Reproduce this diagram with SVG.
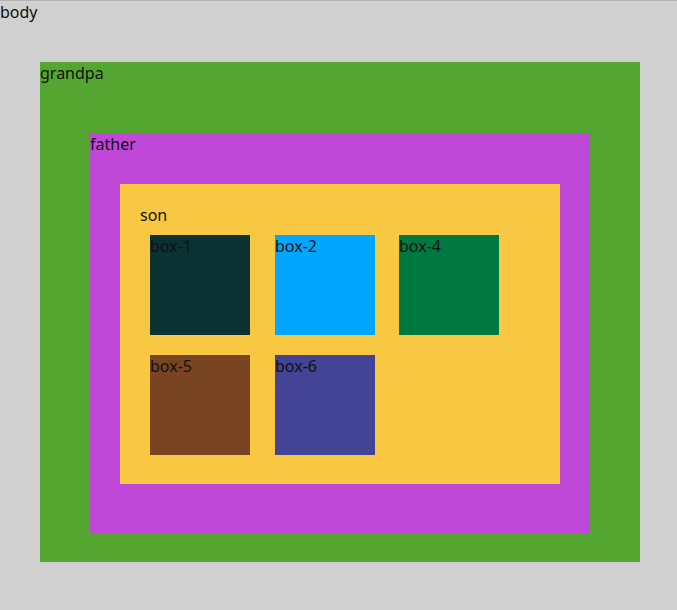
<svg xmlns="http://www.w3.org/2000/svg" width="677" height="610" viewBox="0 0 677 610">
<style>
text{font-family:"Noto Sans","Open Sans","Liberation Sans",sans-serif;font-size:16px;fill:#111;}
</style>
<rect x="0" y="0" width="677" height="610" fill="#d0d0d0"/>
<rect x="0" y="0" width="677" height="1" fill="#b4b4b4"/>
<g id="body"><text x="0" y="18">body</text></g>
<g id="grandpa"><rect x="40" y="62" width="600" height="500" fill="#55a630"/><text x="40" y="79">grandpa</text></g>
<g id="father"><rect x="90" y="133" width="500" height="400" fill="#bf48d8"/><text x="90" y="150">father</text></g>
<g id="son"><rect x="120" y="184" width="440" height="300" fill="#f8c843"/><text x="140" y="221">son</text></g>
<g id="box-1"><rect x="150" y="235" width="100" height="100" fill="#0b3232"/><text x="150" y="252">box-1</text></g>
<g id="box-2"><rect x="275" y="235" width="100" height="100" fill="#00a6ff"/><text x="275" y="252">box-2</text></g>
<g id="box-4"><rect x="399" y="235" width="100" height="100" fill="#007941"/><text x="399" y="252">box-4</text></g>
<g id="box-5"><rect x="150" y="355" width="100" height="100" fill="#784421"/><text x="150" y="372">box-5</text></g>
<g id="box-6"><rect x="275" y="355" width="100" height="100" fill="#434496"/><text x="275" y="372">box-6</text></g>
<g id="connectors"/>
</svg>
